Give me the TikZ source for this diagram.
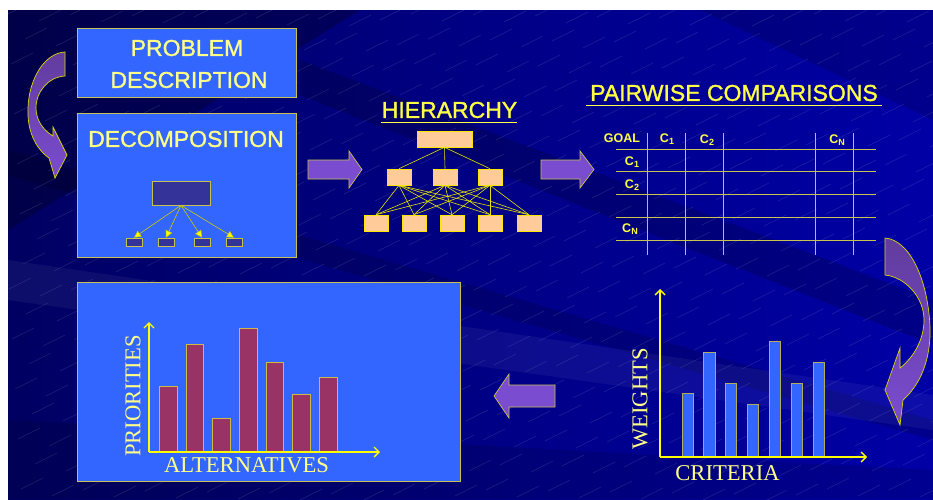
\documentclass[tikz,border=0pt]{standalone}
\usepackage{fontspec}
\setmainfont{Liberation Serif}
\newfontfamily\hsans[FakeBold=1.2]{Liberation Sans}
\newfontfamily\hsansb{Liberation Sans}
\usetikzlibrary{arrows.meta}
\definecolor{bgleft}{HTML}{000062}
\definecolor{bgright}{HTML}{0000A6}
\definecolor{boxblue}{HTML}{3366FF}
\definecolor{boxedge}{HTML}{C8C050}
\definecolor{ltyellow}{HTML}{FFFF88}
\definecolor{ttlyellow}{HTML}{FFFF44}
\definecolor{axisyellow}{HTML}{FFFF00}
\definecolor{gridyellow}{HTML}{C8C450}
\definecolor{peach}{HTML}{FFCC99}
\definecolor{navybox}{HTML}{333399}
\definecolor{purpl}{HTML}{7A4CCF}
\definecolor{purpldark}{HTML}{623C9E}
\definecolor{maroon}{HTML}{993366}
\pgfdeclarelayer{bglayer}
\pgfdeclarelayer{connlayer}
\pgfsetlayers{bglayer,connlayer,main}
\newcommand\csub[1]{C\raisebox{-2.5pt}{\fontsize{9}{9}\selectfont #1}}
\begin{document}
\begin{tikzpicture}[x=1pt,y=-1pt,
  panel/.style={fill=boxblue,draw=boxedge,line width=0.8pt},
  ttl/.style={text=ltyellow,inner sep=0pt,font=\hsans\fontsize{23}{25}\selectfont},
  bigttl/.style={text=ttlyellow,inner sep=0pt,font=\hsans\fontsize{23}{25}\selectfont},
  hbox/.style={fill=peach,draw=axisyellow!80!orange,line width=0.6pt,minimum width=24pt,minimum height=16pt,inner sep=0pt},
  dbox/.style={fill=navybox,draw=boxedge,line width=0.7pt,inner sep=0pt},
  hline/.style={draw=axisyellow!90!black,line width=0.6pt},
  darrow/.style={draw=axisyellow!80!black,line width=0.6pt,-{Triangle[length=7pt,width=7pt,fill=axisyellow]}},
  blockarrow/.style={fill=purpl,draw=boxedge,line width=0.7pt},
  curvarrow/.style={top color=purpldark,bottom color=purpl,draw=axisyellow!85!black,line width=0.7pt},
  grid/.style={draw=gridyellow,line width=0.8pt},
  tlabel/.style={text=ttlyellow,inner sep=0pt,font=\hsansb\bfseries\fontsize{12.5}{13}\selectfont},
  axis/.style={draw=axisyellow,line width=1.4pt,-{Straight Barb[length=5pt,width=10pt,line width=1.4pt]}},
  redbar/.style={fill=maroon,draw=boxedge!90!orange,line width=0.7pt},
  bluebar/.style={fill=boxblue,draw=boxedge!70!gray,line width=0.7pt},
  clabel/.style={text=ltyellow,inner sep=0pt,font=\fontsize{22.6}{24}\selectfont}]
\useasboundingbox (0,0) rectangle (933,499);
\begin{pgfonlayer}{bglayer}
\fill[white] (0,0) rectangle (933,499);
\shade[left color=bgleft,right color=bgright] (8,10) rectangle (933,499);
\begin{scope}
\clip (8,10) rectangle (933,499);
\fill[black,opacity=0.25] (8,10) -- (360,10) -- (8,230) -- cycle;
\fill[black,opacity=0.18] (300,60) -- (933,300) -- (933,345) -- (300,95) -- cycle;
\fill[black,opacity=0.15] (8,150) -- (933,420) -- (933,440) -- (8,175) -- cycle;
\fill[white,opacity=0.05] (8,260) -- (933,395) -- (933,430) -- (8,300) -- cycle;
\fill[black,opacity=0.12] (8,420) -- (933,470) -- (933,499) -- (8,499) -- cycle;
\fill[black,opacity=0.15] (700,10) -- (933,10) -- (933,120) -- cycle;
\foreach \i in {0,...,30}{\foreach \j in {0,...,19}{
  \pgfmathsetmacro\xx{8+\i*31+mod(\j*17,31)}
  \pgfmathsetmacro\yy{14+\j*25+mod(\i*7,13)}
  \draw[white,opacity=0.12,line width=0.5pt] (\xx,\yy) -- ++(22,-11);
}}
\end{scope}
\end{pgfonlayer}

% left curved arrow
\path[curvarrow] (65,52) -- (65,76)
  .. controls (48,77) and (36,92) .. (36,108)
  .. controls (36,120) and (43,130) .. (53,136)
  -- (53,127) -- (67,155) -- (55,178) -- (49,158)
  .. controls (35,148) and (27,130) .. (28,108)
  .. controls (29,78) and (45,53) .. (65,52) -- cycle;

% problem description and decomposition panels
\node[panel,minimum width=219pt,minimum height=69pt,inner sep=0pt] (prob) at (186.5,62.5) {};
\node[ttl] (probt1) at (187,48) {PROBLEM};
\node[ttl] (probt2) at (189,80) {DESCRIPTION};
\node[panel,minimum width=219pt,minimum height=144pt,inner sep=0pt] (decomp) at (186.5,185) {};
\node[ttl] (dect) at (186,139) {DECOMPOSITION};
\node[dbox,minimum width=58pt,minimum height=24pt] (d0) at (181,193) {};
\node[dbox,minimum width=16pt,minimum height=8pt] (d1) at (134,242) {};
\node[dbox,minimum width=16pt,minimum height=8pt] (d2) at (166,242) {};
\node[dbox,minimum width=16pt,minimum height=8pt] (d3) at (202,242) {};
\node[dbox,minimum width=16pt,minimum height=8pt] (d4) at (234,242) {};
\foreach \k in {1,2,3,4} \draw[darrow] (d0.south) -- (d\k.north);

% block arrows
\path[blockarrow] (308,160) -- (349,160) -- (349,151) -- (362,169.5) -- (349,188) -- (349,179) -- (308,179) -- cycle;
\path[blockarrow] (541,160) -- (580,160) -- (580,151) -- (594,169.5) -- (580,188) -- (580,179) -- (541,179) -- cycle;
\path[blockarrow] (555,385) -- (509,385) -- (509,374) -- (494,396) -- (509,418) -- (509,407) -- (555,407) -- cycle;

% hierarchy
\node[bigttl] (hier) at (449.5,110) {HIERARCHY};
\draw[ttlyellow,line width=1pt] (381,122.5) -- (517,122.5);
\node[hbox,minimum width=55pt] (t) at (444.5,139) {};
\node[hbox] (m1) at (399,177) {};
\node[hbox] (m2) at (445,177) {};
\node[hbox] (m3) at (490,177) {};
\node[hbox] (b1) at (376,223) {};
\node[hbox] (b2) at (414,223) {};
\node[hbox] (b3) at (452,223) {};
\node[hbox] (b4) at (490,223) {};
\node[hbox] (b5) at (529,223) {};
\begin{pgfonlayer}{connlayer}
\foreach \m in {1,2,3} \draw[hline] (t.south) -- (m\m.north);
\foreach \m in {1,2,3} \foreach \b in {1,...,5} \draw[hline] (m\m.south) -- (b\b.north);
\end{pgfonlayer}

% pairwise comparisons
\node[bigttl] (pair) at (734,93) {PAIRWISE COMPARISONS};
\draw[ttlyellow,line width=1pt] (586,105.5) -- (882,105.5);
\foreach \yy in {149,171,194,217,240} \draw[grid] (616,\yy) -- (876,\yy);
\foreach \xx in {647,685,723,815,853} \draw[grid] (\xx,133) -- (\xx,255);
\node[tlabel] (goal) at (622,138) {GOAL};
\node[tlabel] (hc1) at (667,139) {\csub{1}};
\node[tlabel] (hc2) at (707,140) {\csub{2}};
\node[tlabel] (hcn) at (837,140) {\csub{N}};
\node[tlabel] (rc1) at (632,162) {\csub{1}};
\node[tlabel] (rc2) at (632,185) {\csub{2}};
\node[tlabel] (rcn) at (630,229) {\csub{N}};

% right curved arrow
\path[curvarrow] (885,238) -- (885,275)
  .. controls (905,277) and (924,297) .. (924,320)
  .. controls (924,340) and (913,358) .. (900,368)
  -- (900,348) -- (885,390) -- (900,425) -- (903,400)
  .. controls (920,385) and (931,360) .. (930,327)
  .. controls (928,280) and (910,240) .. (885,238) -- cycle;

% priorities panel
\node[panel,minimum width=383pt,minimum height=199pt,inner sep=0pt] (prio) at (268.5,381.5) {};
\foreach \a/\b/\t in {159/177/386,186/203/344,212/230/418,239/257/328,266/283/362,292/310/394,319/337/377}
  \draw[redbar] (\a,452) rectangle (\b,\t);
\coordinate (po) at (149,452);
\coordinate (py) at (149,322);
\coordinate (px) at (380,452);
\draw[axis] (po) -- (py);
\draw[axis] (po) -- (px);
\node[clabel,rotate=90] (prl) at (133,396) {PRIORITIES};
\node[clabel] (altl) at (246.5,465) {ALTERNATIVES};

% weights chart
\foreach \a/\b/\t in {682/693/393,703/715/352,725/736/383,747/758/404,769/780/341,791/802/383,813/824/362}
  \draw[bluebar] (\a,457) rectangle (\b,\t);
\coordinate (wo) at (660,457);
\coordinate (wy) at (660,289);
\coordinate (wx) at (867,457);
\draw[axis] (wo) -- (wy);
\draw[axis] (wo) -- (wx);
\node[clabel,rotate=90] (wl) at (640,399) {WEIGHTS};
\node[clabel] (crl) at (727.5,473) {CRITERIA};
\end{tikzpicture}
\end{document}
